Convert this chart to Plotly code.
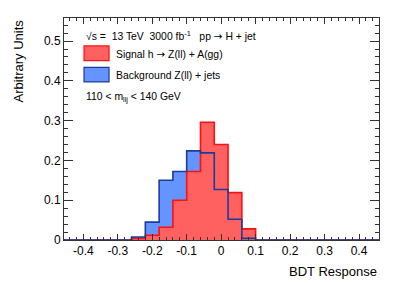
import numpy as np
import plotly.graph_objects as go

# Histogram binning (25 bins, width 0.04, from -0.5 to 0.5)
bin_edges = [round(-0.5 + 0.04 * i, 2) for i in range(26)]
signal = [0, 0, 0, 0, 0, 0, 0.004, 0.012, 0.032, 0.100, 0.172, 0.296, 0.240, 0.119, 0.028,
          0, 0, 0, 0, 0, 0, 0, 0, 0, 0]
background = [0, 0, 0, 0, 0, 0, 0.0075, 0.045, 0.150, 0.172, 0.224, 0.219, 0.127, 0.052, 0.004,
              0, 0, 0, 0, 0, 0, 0, 0, 0, 0]
x_tickvals = [-0.4, -0.3, -0.2, -0.1, 0, 0.1, 0.2, 0.3, 0.4]
x_ticktext = ["-0.4", "-0.3", "-0.2", "-0.1", "0", "0.1", "0.2", "0.3", "0.4"]
y_tickvals = [0, 0.1, 0.2, 0.3, 0.4, 0.5]
y_ticktext = ["0", "0.1", "0.2", "0.3", "0.4", "0.5"]


def step_xy(edges, vals):
    x = [edges[0]] + list(edges)
    y = [0] + list(vals) + [0]
    return x, y


RED_FILL = "#ff6161"
RED_LINE = "#ff1010"
BLUE_FILL = "#6494ff"
BLUE_LINE = "#1c3c9c"

fig = go.Figure()
bx, by = step_xy(bin_edges, background)
sx, sy = step_xy(bin_edges, signal)
fig.add_trace(go.Scatter(x=bx, y=by, mode="lines", line=dict(shape="hv", width=0, color=BLUE_FILL),
                         fill="tozeroy", fillcolor=BLUE_FILL, hoverinfo="skip", showlegend=False))
fig.add_trace(go.Scatter(x=sx, y=sy, mode="lines", line=dict(shape="hv", width=1.6, color=RED_LINE),
                         fill="tozeroy", fillcolor=RED_FILL, hoverinfo="skip", showlegend=False))
fig.add_trace(go.Scatter(x=bx, y=by, mode="lines", line=dict(shape="hv", width=1.6, color=BLUE_LINE),
                         hoverinfo="skip", showlegend=False))

FONT = "Liberation Sans, Arial, sans-serif"
axis_common = dict(showline=True, linecolor="#333", linewidth=1, mirror="allticks",
                   ticks="inside", tickcolor="#333", showgrid=False, zeroline=False,
                   tickfont=dict(family=FONT, size=12, color="black"))

fig.update_layout(
    width=399, height=286,
    margin=dict(l=64, r=20, t=18, b=46),
    plot_bgcolor="white", paper_bgcolor="white",
    xaxis=dict(range=[-0.456, 0.458], tickvals=x_tickvals, ticktext=x_ticktext, ticklen=6,
               minor=dict(dtick=0.02, tick0=0, ticklen=3, ticks="inside", tickcolor="#333"),
               **axis_common),
    yaxis=dict(range=[0, 0.558], tickvals=y_tickvals, ticktext=y_ticktext, ticklen=9,
               minor=dict(dtick=0.02, tick0=0, ticklen=4, ticks="inside", tickcolor="#333"),
               **axis_common),
)

# Axis titles
fig.add_annotation(text="Arbitrary Units", textangle=-90, xref="paper", yref="paper",
                   x=-0.146, y=1.0, xanchor="center", yanchor="top", showarrow=False,
                   font=dict(family=FONT, size=13, color="black"))
fig.add_annotation(text="BDT Response", xref="paper", yref="paper", x=1.0, y=-0.14,
                   xanchor="right", yanchor="middle", showarrow=False,
                   font=dict(family=FONT, size=13, color="black"))

# Legend / labels
ARROW = "<span style='font-family:DejaVu Sans'>→</span>"
lf = dict(family=FONT, size=10.4, color="black")
fig.add_annotation(text=f"√s =  13 TeV  3000 fb<sup>-1</sup>   pp {ARROW} H + jet", xref="paper", yref="paper",
                   x=0.0635, y=0.919, xanchor="left", yanchor="middle", showarrow=False, font=lf)
fig.add_shape(type="rect", xref="paper", yref="paper", x0=0.0635, x1=0.143, y0=0.808, y1=0.874,
              fillcolor=RED_FILL, line=dict(color=RED_LINE, width=1.2))
fig.add_annotation(text=f"Signal h {ARROW} Z(ll) + A(gg)", xref="paper", yref="paper",
                   x=0.159, y=0.838, xanchor="left", yanchor="middle", showarrow=False, font=lf)
fig.add_shape(type="rect", xref="paper", yref="paper", x0=0.0635, x1=0.143, y0=0.712, y1=0.778,
              fillcolor=BLUE_FILL, line=dict(color=BLUE_LINE, width=1.2))
fig.add_annotation(text="Background Z(ll) + jets", xref="paper", yref="paper",
                   x=0.159, y=0.739, xanchor="left", yanchor="middle", showarrow=False, font=lf)
fig.add_annotation(text="110 < m<sub>llj</sub> < 140 GeV", xref="paper", yref="paper",
                   x=0.0635, y=0.644, xanchor="left", yanchor="middle", showarrow=False, font=lf)

fig.write_html("out.html", config={"displayModeBar": False},
               post_script="document.body.style.margin='0';")
